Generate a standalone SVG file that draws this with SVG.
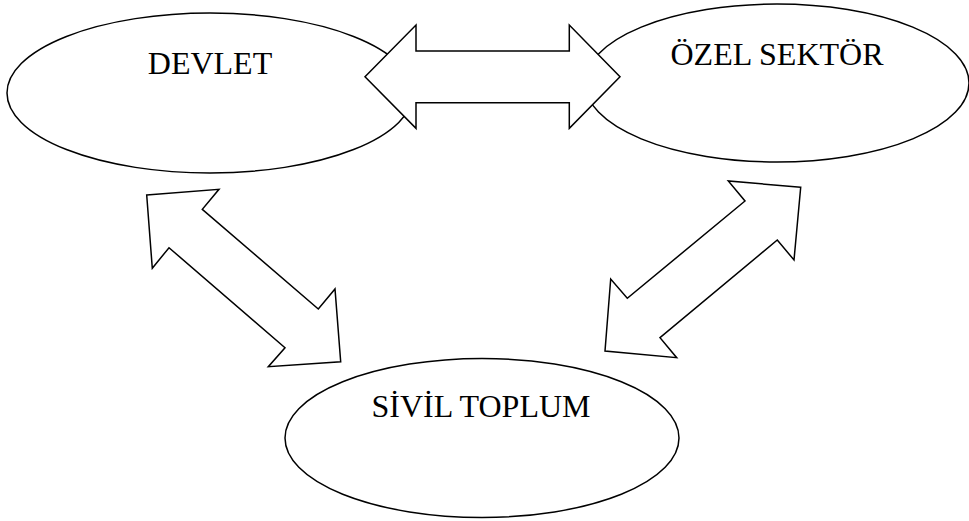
<svg xmlns="http://www.w3.org/2000/svg" width="969" height="521" viewBox="0 0 969 521">
<style>
.node ellipse{fill:#fff;stroke:#000;stroke-width:1.5}
.node text{font-family:"Liberation Serif","Times New Roman",serif;font-size:32px;fill:#000;text-anchor:middle}
.conn polygon{fill:#fff;stroke:#000;stroke-width:1.5;stroke-linejoin:miter}
</style>
<rect width="969" height="521" fill="#fff"/>
<g id="devlet" class="node">
<ellipse cx="210" cy="93" rx="203" ry="80"/>
<text x="210" y="74">DEVLET</text>
</g>
<g id="ozel-sektor" class="node">
<ellipse cx="777" cy="83" rx="192" ry="79"/>
<text x="777" y="65">ÖZEL SEKTÖR</text>
</g>
<g id="sivil-toplum" class="node">
<ellipse cx="482" cy="438" rx="197" ry="79.5"/>
<text x="481" y="417">SİVİL TOPLUM</text>
</g>
<g id="connectors" class="conn">
<polygon points="365,76.7 416,25 416,51 569.3,51 569.3,25 620,76.7 569.3,128.3 569.3,102.7 416,102.7 416,128.3"/>
<polygon points="146.7,195 219,189.3 202.3,209.3 318.3,309 335,289 340.7,361.7 268.3,366.7 285,347.7 169,247.7 152.3,268.3"/>
<polygon points="800.7,187.3 728.3,181 745,201 627.3,298.3 610.7,279 605,351 676.7,357.7 660,337.7 777.3,240 794,260"/>
</g>
</svg>
